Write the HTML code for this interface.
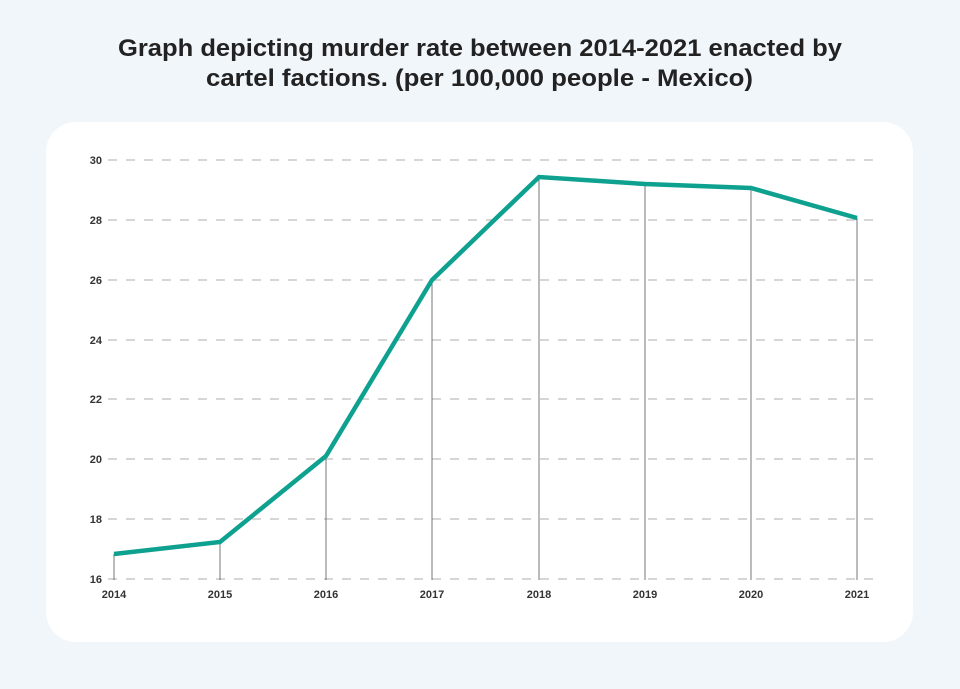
<!DOCTYPE html>
<html><head><style>
body{margin:0;width:960px;height:689px;background:#f1f6fb;font-family:"Liberation Sans",sans-serif;overflow:hidden}
</style></head><body>
<svg width="960" height="689" xmlns="http://www.w3.org/2000/svg" style="position:absolute;left:0;top:0">
<text x="118" y="56" textLength="724" lengthAdjust="spacingAndGlyphs" font-family="Liberation Sans" font-weight="bold" font-size="24" fill="#222">Graph depicting murder rate between 2014-2021 enacted by</text>
<text x="206" y="86" textLength="547" lengthAdjust="spacingAndGlyphs" font-family="Liberation Sans" font-weight="bold" font-size="24" fill="#222">cartel factions. (per 100,000 people - Mexico)</text>
<rect x="46" y="122" width="867" height="520" rx="30" fill="#fff"/>
<g stroke="#c8c8c8" stroke-width="1.5" stroke-dasharray="9,9">
<line x1="108" y1="160" x2="880" y2="160"/><line x1="108" y1="220" x2="880" y2="220"/>
<line x1="108" y1="280" x2="880" y2="280"/><line x1="108" y1="340" x2="880" y2="340"/>
<line x1="108" y1="399" x2="880" y2="399"/><line x1="108" y1="459" x2="880" y2="459"/>
<line x1="108" y1="519" x2="880" y2="519"/><line x1="108" y1="579" x2="880" y2="579"/>
</g>
<g font-size="11" font-weight="bold" fill="#333" text-anchor="end">
<text x="102" y="164">30</text><text x="102" y="224">28</text><text x="102" y="284">26</text><text x="102" y="344">24</text>
<text x="102" y="403">22</text><text x="102" y="463">20</text><text x="102" y="523">18</text><text x="102" y="583">16</text>
</g>
<g stroke="#555" stroke-width="0.8">
<line x1="114" y1="554" x2="114" y2="580"/><line x1="220" y1="542" x2="220" y2="580"/>
<line x1="326" y1="456" x2="326" y2="580"/><line x1="432" y1="280" x2="432" y2="580"/>
<line x1="539" y1="177" x2="539" y2="580"/><line x1="645" y1="184" x2="645" y2="580"/>
<line x1="751" y1="188" x2="751" y2="580"/><line x1="857" y1="218" x2="857" y2="580"/>
</g>
<g font-size="11" font-weight="bold" fill="#333" text-anchor="middle">
<text x="114" y="598">2014</text><text x="220" y="598">2015</text><text x="326" y="598">2016</text><text x="432" y="598">2017</text>
<text x="539" y="598">2018</text><text x="645" y="598">2019</text><text x="751" y="598">2020</text><text x="857" y="598">2021</text>
</g>
<polyline points="114,554 220,542 326,456 432,280 539,177 645,184 751,188 857,218" fill="none" stroke="#0ea18f" stroke-width="4.5" stroke-linejoin="miter"/>
</svg>
</body></html>
